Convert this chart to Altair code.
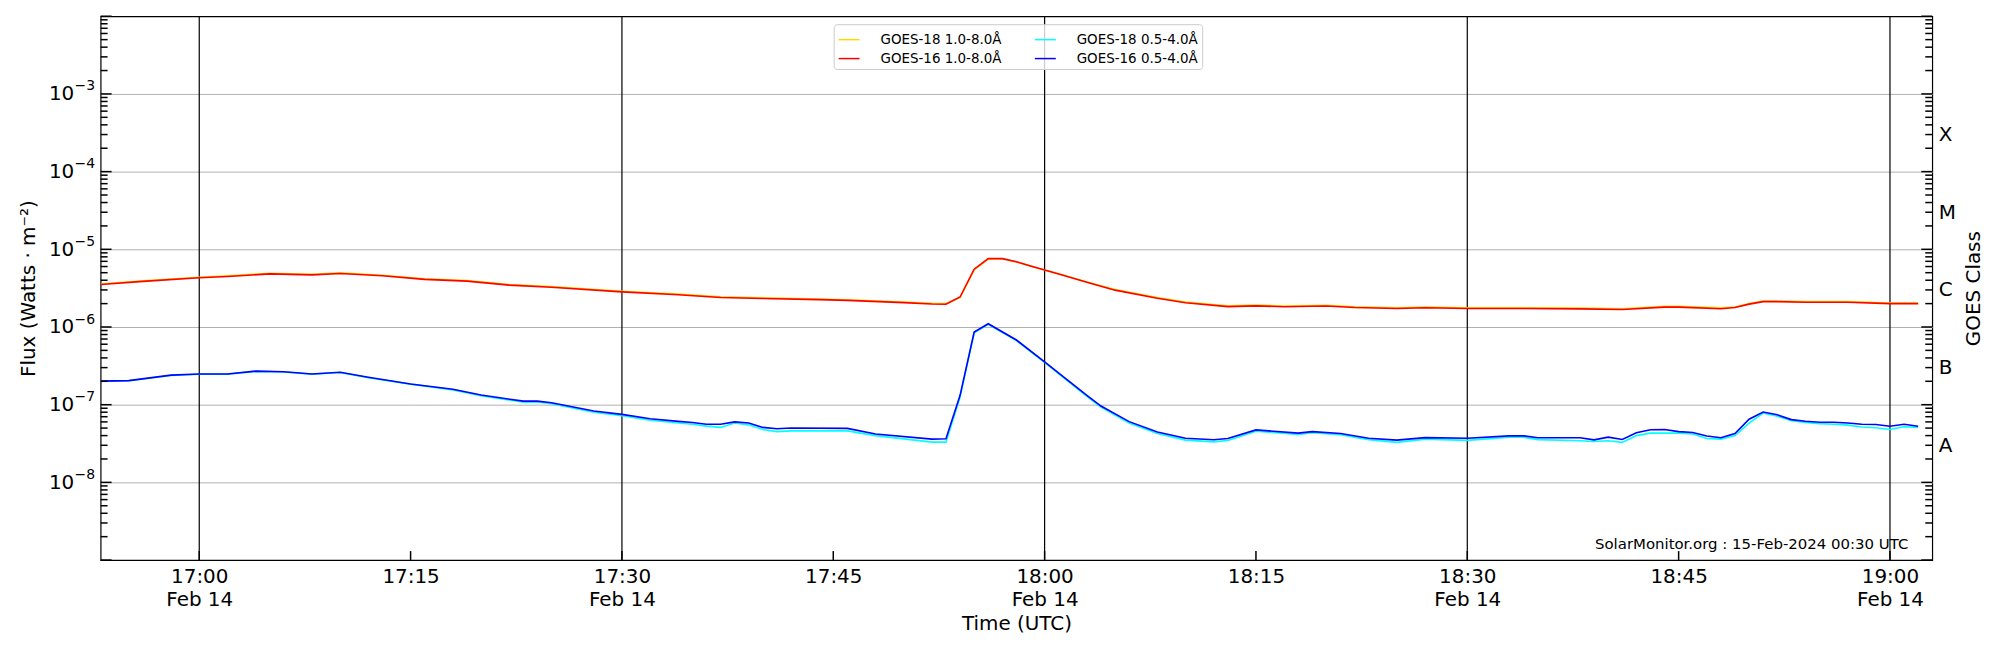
import altair as alt
import pandas as pd

DAY = "2024-02-14"

# ---- 1.0-8.0 Å channel (GOES-16 red, GOES-18 gold) ----
long_times = ["16:53", "16:56", "17:00", "17:02", "17:05", "17:08", "17:10", "17:13", "17:16", "17:19",
              "17:22", "17:25", "17:30", "17:34", "17:37", "17:40", "17:44", "17:46", "17:50", "17:52",
              "17:53", "17:54", "17:55", "17:56", "17:57", "17:58", "17:59", "18:00", "18:01", "18:03",
              "18:05", "18:08", "18:10", "18:13", "18:15", "18:17", "18:20", "18:22", "18:25", "18:27",
              "18:30", "18:34", "18:38", "18:41", "18:44", "18:45", "18:48", "18:49", "18:50", "18:51",
              "18:52", "18:54", "18:57", "19:00", "19:02"]
goes16_long = [3.53e-6, 3.86e-6, 4.30e-6, 4.47e-6, 4.83e-6, 4.69e-6, 4.89e-6, 4.56e-6, 4.10e-6, 3.89e-6,
               3.46e-6, 3.25e-6, 2.83e-6, 2.60e-6, 2.40e-6, 2.33e-6, 2.25e-6, 2.20e-6, 2.06e-6, 1.98e-6,
               1.96e-6, 2.43e-6, 5.55e-6, 7.58e-6, 7.58e-6, 6.90e-6, 6.10e-6, 5.40e-6, 4.80e-6, 3.76e-6,
               2.98e-6, 2.35e-6, 2.05e-6, 1.83e-6, 1.87e-6, 1.82e-6, 1.86e-6, 1.78e-6, 1.73e-6, 1.77e-6,
               1.73e-6, 1.73e-6, 1.71e-6, 1.68e-6, 1.80e-6, 1.80e-6, 1.72e-6, 1.78e-6, 1.97e-6, 2.12e-6,
               2.12e-6, 2.08e-6, 2.08e-6, 2.00e-6, 2.00e-6]
goes18_long = [3.58e-6, 3.92e-6, 4.36e-6, 4.55e-6, 4.92e-6, 4.78e-6, 4.97e-6, 4.64e-6, 4.18e-6, 3.96e-6,
               3.52e-6, 3.31e-6, 2.88e-6, 2.65e-6, 2.45e-6, 2.38e-6, 2.29e-6, 2.24e-6, 2.10e-6, 2.02e-6,
               2.00e-6, 2.40e-6, 5.45e-6, 7.50e-6, 7.55e-6, 6.88e-6, 6.10e-6, 5.42e-6, 4.83e-6, 3.80e-6,
               3.03e-6, 2.40e-6, 2.09e-6, 1.87e-6, 1.91e-6, 1.86e-6, 1.90e-6, 1.82e-6, 1.77e-6, 1.81e-6,
               1.77e-6, 1.77e-6, 1.75e-6, 1.72e-6, 1.84e-6, 1.84e-6, 1.76e-6, 1.81e-6, 2.00e-6, 2.15e-6,
               2.16e-6, 2.12e-6, 2.12e-6, 2.04e-6, 2.04e-6]

# ---- 0.5-4.0 Å channel (GOES-16 blue, GOES-18 cyan) ----
short_times = ["16:53", "16:55", "16:58", "17:00", "17:02", "17:04", "17:06", "17:08", "17:10", "17:12",
               "17:15", "17:18", "17:20", "17:23", "17:24", "17:25", "17:28", "17:30", "17:32", "17:34",
               "17:35", "17:36", "17:37", "17:38", "17:39", "17:40", "17:41", "17:42", "17:46", "17:48",
               "17:52", "17:53", "17:54", "17:55", "17:56", "17:58", "18:00", "18:03", "18:04", "18:06",
               "18:08", "18:10", "18:12", "18:13", "18:15", "18:18", "18:19", "18:21", "18:23", "18:25",
               "18:27", "18:30", "18:33", "18:34", "18:35", "18:38", "18:39", "18:40", "18:41", "18:42",
               "18:43", "18:44", "18:45", "18:46", "18:47", "18:48", "18:49", "18:50", "18:51", "18:52",
               "18:53", "18:54", "18:55", "18:56", "18:57", "18:58", "18:59", "19:00", "19:01", "19:02"]
goes16_short = [2.01e-7, 2.04e-7, 2.40e-7, 2.48e-7, 2.48e-7, 2.70e-7, 2.65e-7, 2.48e-7, 2.61e-7, 2.25e-7,
                1.85e-7, 1.58e-7, 1.33e-7, 1.11e-7, 1.11e-7, 1.06e-7, 8.3e-8, 7.5e-8, 6.6e-8, 6.1e-8,
                5.9e-8, 5.6e-8, 5.6e-8, 6.0e-8, 5.8e-8, 5.1e-8, 4.9e-8, 5.0e-8, 4.95e-8, 4.2e-8,
                3.6e-8, 3.65e-8, 1.32e-7, 8.6e-7, 1.1e-6, 6.8e-7, 3.55e-7, 1.32e-7, 9.6e-8, 6.05e-8,
                4.46e-8, 3.7e-8, 3.53e-8, 3.67e-8, 4.74e-8, 4.3e-8, 4.5e-8, 4.25e-8, 3.7e-8, 3.5e-8,
                3.77e-8, 3.7e-8, 3.97e-8, 3.97e-8, 3.75e-8, 3.75e-8, 3.52e-8, 3.82e-8, 3.56e-8, 4.35e-8,
                4.76e-8, 4.78e-8, 4.5e-8, 4.38e-8, 3.96e-8, 3.75e-8, 4.25e-8, 6.5e-8, 8.05e-8, 7.4e-8,
                6.42e-8, 6.12e-8, 5.94e-8, 5.94e-8, 5.82e-8, 5.6e-8, 5.55e-8, 5.28e-8, 5.6e-8, 5.28e-8]
goes18_short = [2.00e-7, 2.03e-7, 2.38e-7, 2.46e-7, 2.46e-7, 2.68e-7, 2.63e-7, 2.46e-7, 2.59e-7, 2.22e-7,
                1.83e-7, 1.55e-7, 1.30e-7, 1.08e-7, 1.08e-7, 1.03e-7, 8.0e-8, 7.2e-8, 6.3e-8, 5.8e-8,
                5.6e-8, 5.3e-8, 5.1e-8, 5.8e-8, 5.5e-8, 4.8e-8, 4.5e-8, 4.6e-8, 4.6e-8, 4.0e-8,
                3.3e-8, 3.3e-8, 1.25e-7, 8.4e-7, 1.08e-6, 6.7e-7, 3.5e-7, 1.28e-7, 9.3e-8, 5.8e-8,
                4.25e-8, 3.5e-8, 3.32e-8, 3.45e-8, 4.55e-8, 4.15e-8, 4.35e-8, 4.1e-8, 3.55e-8, 3.27e-8,
                3.6e-8, 3.47e-8, 3.8e-8, 3.8e-8, 3.55e-8, 3.43e-8, 3.35e-8, 3.43e-8, 3.27e-8, 4.0e-8,
                4.3e-8, 4.32e-8, 4.3e-8, 4.2e-8, 3.67e-8, 3.6e-8, 4.0e-8, 5.8e-8, 7.8e-8, 7.1e-8,
                6.2e-8, 5.9e-8, 5.7e-8, 5.6e-8, 5.45e-8, 5.17e-8, 5.05e-8, 4.8e-8, 5.2e-8, 5.1e-8]

# legend is filled column by column: col 1 = gold, red ; col 2 = cyan, blue
series_names = ["GOES-18 1.0-8.0Å", "GOES-16 1.0-8.0Å", "GOES-18 0.5-4.0Å", "GOES-16 0.5-4.0Å"]
series_colors = ["#ffd700", "#ff0000", "#00ffff", "#0000ff"]
draw_order = ["GOES-18 1.0-8.0Å", "GOES-16 1.0-8.0Å", "GOES-18 0.5-4.0Å", "GOES-16 0.5-4.0Å"]

grid_times = ["17:00", "17:30", "18:00", "18:30", "19:00"]
tick_times = ["17:00", "17:15", "17:30", "17:45", "18:00", "18:15", "18:30", "18:45", "19:00"]
decade_ticks = [1e-8, 1e-7, 1e-6, 1e-5, 1e-4, 1e-3]
goes_classes = ["A", "B", "C", "M", "X"]
class_flux = [3e-8, 3e-7, 3e-6, 3e-5, 3e-4]
stamp = "SolarMonitor.org : 15-Feb-2024 00:30 UTC"

W, H = 1839, 546
FONT = "DejaVu Sans"


def iso(t):
    return f"{DAY}T{t}:00Z"


def dt(t):
    h, m = t.split(":")
    return alt.DateTime(year=2024, month=2, date=14, hours=int(h), minutes=int(m), utc=True)


frames = []
for name, times, vals in [
    ("GOES-18 1.0-8.0Å", long_times, goes18_long),
    ("GOES-16 1.0-8.0Å", long_times, goes16_long),
    ("GOES-18 0.5-4.0Å", short_times, goes18_short),
    ("GOES-16 0.5-4.0Å", short_times, goes16_short),
]:
    frames.append(pd.DataFrame({"time": [iso(t) for t in times], "flux": vals, "series": name}))
data = pd.concat(frames, ignore_index=True)

major_vals = [1e-9] + decade_ticks + [1e-2]
minor_vals = [m * 10.0 ** k for k in range(-9, -2) for m in range(2, 10)]
ydf = pd.DataFrame({"flux": decade_ticks})
major_df = pd.DataFrame({"flux": major_vals})
minor_df = pd.DataFrame({"flux": minor_vals})

x_scale = alt.Scale(type="utc", domain=[dt("16:53"), dt("19:03")])
y_scale = alt.Scale(type="log", domain=[1e-9, 1e-2], nice=False)

color_scale = alt.Scale(domain=series_names, range=series_colors)
legend = alt.Legend(
    orient="none", legendX=736, legendY=8, columns=2, title=None,
    symbolType="stroke", symbolSize=441, symbolStrokeWidth=1.5,
    labelFontSize=13.5, labelFont=FONT, labelColor="black", labelOffset=20, labelLimit=400,
    columnPadding=30, rowPadding=1, padding=4,
    fillColor="rgba(255,255,255,0.8)", strokeColor="#cccccc", cornerRadius=3,
)

left_axis = alt.Axis(
    orient="left", values=decade_ticks, labelExpr="'10'",
    grid=True, gridColor="#b0b0b0", gridWidth=1, ticks=False, tickSize=0, domain=False,
    labelFontSize=20, labelPadding=27, labelColor="black",
    title="Flux (Watts · m⁻²)", titleFontSize=20, titleFontWeight="normal", titleColor="black", titlePadding=10,
)
exp_axis = alt.Axis(
    orient="left", values=decade_ticks,
    labelExpr="'−' + format(round(-log(datum.value)/LN10), 'd')",
    grid=False, ticks=False, tickSize=0, domain=False,
    labelFontSize=14, labelPadding=6, labelOffset=-8, labelColor="black", title=None,
)

x_axis = alt.Axis(
    values=[dt(t) for t in tick_times],
    labelExpr="utcminutes(datum.value) % 30 == 0 ? [utcFormat(datum.value, '%H:%M'), utcFormat(datum.value, '%b %d')] : utcFormat(datum.value, '%H:%M')",
    grid=False, ticks=False, tickSize=0, domain=False,
    labelFontSize=20, labelPadding=7, labelLineHeight=23, labelBaseline="top",
    labelFlush=False, labelOverlap=False, labelColor="black",
    title="Time (UTC)", titleFontSize=20, titleFontWeight="normal", titleColor="black", titlePadding=4,
)

class_expr = " : ".join(
    f"datum.value < {c * 3:.0e} ? '{g}'" for g, c in zip(goes_classes[:-1], class_flux[:-1])
) + f" : '{goes_classes[-1]}'"
right_axis = alt.Axis(
    orient="right", values=class_flux, labelExpr=class_expr,
    grid=False, ticks=False, tickSize=0, domain=False,
    labelFontSize=20, labelPadding=6, labelColor="black", labelAlign="left",
    title="GOES Class", titleFontSize=20, titleFontWeight="normal", titleColor="black",
    titleAngle=270, titleBaseline="top", titlePadding=8,
)

vlines = alt.Chart(pd.DataFrame({"time": [iso(t) for t in grid_times]})).mark_rule(
    color="black", strokeWidth=1.2
).encode(x=alt.X("time:T", scale=x_scale, axis=None))

line_layers = []
for i, name in enumerate(draw_order):
    line_layers.append(
        alt.Chart(data).transform_filter(alt.datum.series == name).mark_line(strokeWidth=1.6, clip=True).encode(
            x=alt.X("time:T", scale=x_scale, axis=x_axis if i == 0 else None),
            y=alt.Y("flux:Q", scale=y_scale, axis=left_axis if i == 0 else None),
            color=alt.Color("series:N", scale=color_scale, legend=legend),
        )
    )


def y_axis_layer(axis):
    return alt.Chart(ydf).mark_rule(opacity=0).encode(y=alt.Y("flux:Q", scale=y_scale, axis=axis))


def ytick_rules(df, x0, x1):
    # inward tick marks along the left / right frame
    return alt.Chart(df).mark_rule(color="black", strokeWidth=1.5).encode(
        y=alt.Y("flux:Q", scale=y_scale, axis=None),
        x=alt.value(x0), x2=alt.value(x1),
    )


tick_rules = [
    ytick_rules(major_df, 0, 11),
    ytick_rules(minor_df, 0, 7),
    ytick_rules(major_df, W - 11, W),
    ytick_rules(minor_df, W - 7, W),
]

xtick_rules = alt.Chart(pd.DataFrame({"time": [iso(t) for t in tick_times]})).mark_rule(
    color="black", strokeWidth=1.5
).encode(
    x=alt.X("time:T", scale=x_scale, axis=None),
    y=alt.value(H - 9), y2=alt.value(H),
)

stamp_layer = alt.Chart(pd.DataFrame({"txt": [stamp]})).mark_text(
    align="right", baseline="middle", fontSize=15, font=FONT, color="black"
).encode(text="txt:N", x=alt.value(W - 24), y=alt.value(H - 16))

chart = alt.layer(
    vlines, *line_layers, y_axis_layer(exp_axis), y_axis_layer(right_axis),
    *tick_rules, xtick_rules, stamp_layer
).resolve_axis(y="independent", x="independent").resolve_scale(y="shared", x="shared", color="shared").properties(
    width=W, height=H,
    autosize=alt.AutoSizeParams(type="none"),
    padding={"left": 93, "top": 7, "right": 60, "bottom": 80},
).configure(font=FONT).configure_view(stroke="black", strokeWidth=1.2)

chart.save("out.html", embed_options={"renderer": "svg", "actions": False})
